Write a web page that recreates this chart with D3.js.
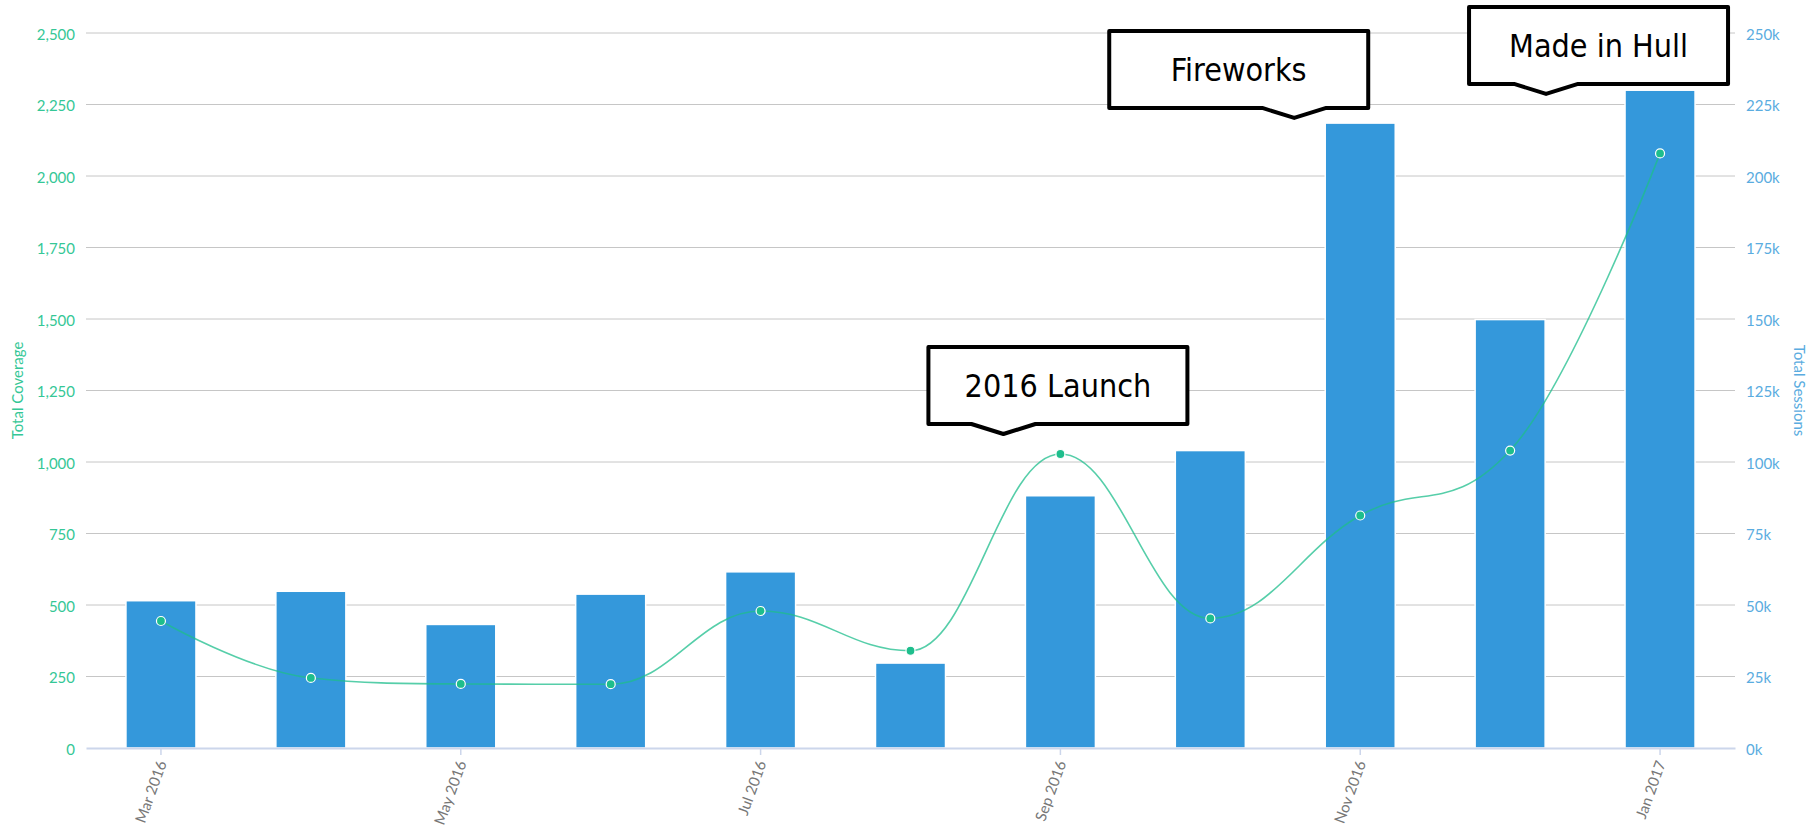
<!DOCTYPE html>
<html>
<head>
<meta charset="utf-8">
<script src="https://cdn.jsdelivr.net/npm/d3@7"></script>
<style>
  body { margin: 0; background: #fff; }
  svg { display: block; }
</style>
</head>
<body>
<div id="graph"></div>
<script>
const width = 1817;
const height = 831;

// data
const months = [
  "Mar 2016", "Apr 2016", "May 2016", "Jun 2016", "Jul 2016", "Aug 2016",
  "Sep 2016", "Oct 2016", "Nov 2016", "Dec 2016", "Jan 2017"
];
const sessions = [51500, 54800, 43200, 53800, 61600, 29700, 88200, 104000, 218500, 149800, 230000];
const coverage = [444, 245, 224, 223, 479, 340, 1028, 453, 813, 1040, 2079];

const coverageTicks = [0, 250, 500, 750, 1000, 1250, 1500, 1750, 2000, 2250, 2500];
const sessionTicks = [0, 25000, 50000, 75000, 100000, 125000, 150000, 175000, 200000, 225000, 250000];

const noteLabels = ["2016 Launch", "Fireworks", "Made in Hull"];
const noteMonths = ["Sep 2016", "Nov 2016", "Jan 2017"];
const noteValues = [1098, 2203, 2287]; // coverage value at the callout tip

// layout
const margin = { top: 33, right: 82, bottom: 83, left: 86 };
const noteTipShift = [-57, -66, -114];   // tip x relative to the month centre
const noteBoxShift = [-75, -185, -77];   // box left relative to the tip
const noteW = 259, noteH = 77, notePointer = 10, noteHalf = 32;

const barColor = "#3498db";
const lineColor = "#1ebe8c";
const leftText = "#35c796";
const rightText = "#5aace0";
const font = "Lato, 'Open Sans', sans-serif";

const svg = d3.select("#graph")
  .append("svg")
  .attr("width", width)
  .attr("height", height)
  .style("background", "#fff");

const x = d3.scaleBand()
  .domain(months)
  .range([margin.left, width - margin.right])
  .padding(0);

const yLeft = d3.scaleLinear()
  .domain([0, 2500])
  .range([height - margin.bottom, margin.top]);

const yRight = d3.scaleLinear()
  .domain([0, 250000])
  .range([height - margin.bottom, margin.top]);

// gridlines
svg.append("g")
  .selectAll("line")
  .data(coverageTicks.slice(1))
  .join("line")
  .attr("x1", margin.left)
  .attr("x2", width - margin.right)
  .attr("y1", d => yLeft(d))
  .attr("y2", d => yLeft(d))
  .attr("stroke", "#c6c6c6")
  .attr("stroke-width", 1);

// left axis (Total Coverage)
const leftAxis = svg.append("g")
  .attr("transform", `translate(${margin.left - 11},0)`)
  .call(d3.axisLeft(yLeft).tickValues(coverageTicks).tickSize(0).tickFormat(d3.format(",")));
leftAxis.select(".domain").remove();
leftAxis.selectAll("text")
  .attr("x", 0)
  .attr("dy", "0.4em")
  .attr("fill", leftText)
  .style("font-family", font)
  .style("font-size", "15px");

// right axis (Total Sessions)
const rightAxis = svg.append("g")
  .attr("transform", `translate(${width - margin.right + 11},0)`)
  .call(d3.axisRight(yRight).tickValues(sessionTicks).tickSize(0).tickFormat(d => (d / 1000) + "k"));
rightAxis.select(".domain").remove();
rightAxis.selectAll("text")
  .attr("x", 0)
  .attr("dy", "0.4em")
  .attr("fill", rightText)
  .style("font-family", font)
  .style("font-size", "15px");

// axis titles
svg.append("text")
  .attr("transform", `translate(18, ${(margin.top + height - margin.bottom) / 2}) rotate(-90)`)
  .attr("text-anchor", "middle")
  .attr("dy", "0.35em")
  .attr("fill", leftText)
  .style("font-family", font)
  .style("font-size", "15px")
  .text("Total Coverage");

svg.append("text")
  .attr("transform", `translate(1799, ${(margin.top + height - margin.bottom) / 2}) rotate(90)`)
  .attr("text-anchor", "middle")
  .attr("dy", "0.35em")
  .attr("fill", rightText)
  .style("font-family", font)
  .style("font-size", "15px")
  .text("Total Sessions");

// bars
const barW = x.bandwidth() * 0.467;
svg.append("g")
  .selectAll("rect")
  .data(months)
  .join("rect")
  .attr("x", (d, i) => x(d) + x.bandwidth() / 2 - barW / 2)
  .attr("y", (d, i) => yRight(sessions[i]))
  .attr("width", barW)
  .attr("height", (d, i) => yRight(0) - yRight(sessions[i]))
  .attr("fill", barColor)
  .attr("stroke", "#fff")
  .attr("stroke-width", 1.5);

// x axis line + ticks + labels (every other month)
const xAxis = svg.append("g")
  .attr("transform", `translate(0, ${height - margin.bottom})`)
  .call(d3.axisBottom(x).tickValues(months.filter((d, i) => i % 2 === 0)).tickSize(7).tickSizeOuter(0));
xAxis.select(".domain")
  .attr("stroke", "#ccd6eb")
  .attr("stroke-width", 2);
xAxis.selectAll(".tick line")
  .attr("stroke", "#ccd6eb")
  .attr("stroke-width", 1.5);
xAxis.selectAll(".tick text")
  .attr("y", 0)
  .attr("dy", 0)
  .attr("text-anchor", "end")
  .attr("transform", "translate(6, 15) rotate(-70)")
  .attr("fill", "#777")
  .style("font-family", font)
  .style("font-size", "15px");

// spline like highcharts
function splinePath(pts) {
  const p = d3.path();
  const s = 1.5, den = s + 1;
  let prevRight = null;
  p.moveTo(pts[0][0], pts[0][1]);
  for (let i = 1; i < pts.length; i++) {
    const cur = pts[i], last = pts[i - 1], next = pts[i + 1];
    let lcx = cur[0], lcy = cur[1], rcx, rcy;
    if (next) {
      lcx = (s * cur[0] + last[0]) / den;
      lcy = (s * cur[1] + last[1]) / den;
      rcx = (s * cur[0] + next[0]) / den;
      rcy = (s * cur[1] + next[1]) / den;
      let corr = 0;
      if (rcx !== lcx) corr = ((rcy - lcy) * (rcx - cur[0])) / (rcx - lcx) + cur[1] - rcy;
      lcy += corr; rcy += corr;
      if (lcy > last[1] && lcy > cur[1]) { lcy = Math.max(last[1], cur[1]); rcy = 2 * cur[1] - lcy; }
      else if (lcy < last[1] && lcy < cur[1]) { lcy = Math.min(last[1], cur[1]); rcy = 2 * cur[1] - lcy; }
      if (rcy > next[1] && rcy > cur[1]) { rcy = Math.max(next[1], cur[1]); lcy = 2 * cur[1] - rcy; }
      else if (rcy < next[1] && rcy < cur[1]) { rcy = Math.min(next[1], cur[1]); lcy = 2 * cur[1] - rcy; }
    }
    const c1 = prevRight || last;
    p.bezierCurveTo(c1[0], c1[1], lcx, lcy, cur[0], cur[1]);
    prevRight = next ? [rcx, rcy] : null;
  }
  return p.toString();
}

const linePts = months.map((m, i) => [x(m) + x.bandwidth() / 2, yLeft(coverage[i])]);

svg.append("path")
  .attr("d", splinePath(linePts))
  .attr("fill", "none")
  .attr("stroke", lineColor)
  .attr("stroke-opacity", 0.75)
  .attr("stroke-width", 1.6);

svg.append("g")
  .selectAll("circle")
  .data(linePts)
  .join("circle")
  .attr("cx", d => d[0])
  .attr("cy", d => d[1])
  .attr("r", 4.5)
  .attr("fill", lineColor)
  .attr("stroke", "#fff")
  .attr("stroke-width", 1.2);

// callouts
noteLabels.forEach((label, i) => {
  const tx = x(noteMonths[i]) + x.bandwidth() / 2 + noteTipShift[i];
  const ty = yLeft(noteValues[i]);
  const left = tx + noteBoxShift[i];
  const bottom = ty - notePointer;
  const top = bottom - noteH;
  const right = left + noteW;

  const shape = d3.path();
  shape.moveTo(left, top);
  shape.lineTo(right, top);
  shape.lineTo(right, bottom);
  shape.lineTo(tx + noteHalf, bottom);
  shape.lineTo(tx, ty);
  shape.lineTo(tx - noteHalf, bottom);
  shape.lineTo(left, bottom);
  shape.closePath();

  svg.append("path")
    .attr("d", shape.toString())
    .attr("fill", "#fff")
    .attr("stroke", "#000")
    .attr("stroke-width", 4)
    .attr("stroke-linejoin", "round");

  svg.append("text")
    .attr("x", (left + right) / 2)
    .attr("y", (top + bottom) / 2 + 12)
    .attr("text-anchor", "middle")
    .attr("fill", "#000")
    .style("font-family", "'DejaVu Sans Condensed', 'DejaVu Sans', sans-serif")
    .style("font-size", "32px")
    .text(label);
});
</script>
</body>
</html>
